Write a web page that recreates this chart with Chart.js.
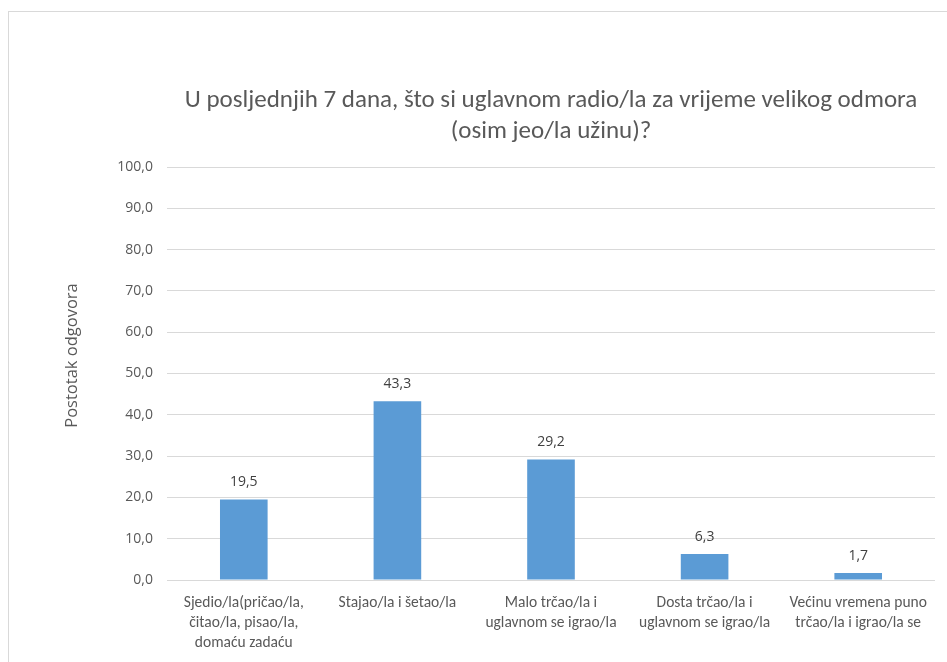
<!DOCTYPE html>
<html>
<head>
<meta charset="utf-8">
<script src="https://cdn.jsdelivr.net/npm/chart.js@4"></script>
<style>
    body { margin: 0; background: #fff; overflow: hidden; }
    #wrap {
        position: absolute; left: 8px; top: 11px;
        border-left: 1px solid #d9d9d9; border-top: 1px solid #d9d9d9;
    }
    canvas { display: block; }
</style>
</head>
<body>
<div id="wrap"><canvas id="odmorChart" width="938" height="650"></canvas></div>
<script>
const categories = [
    ["Sjedio/la(pričao/la,", "čitao/la, pisao/la,", "domaću zadaću"],
    "Stajao/la i šetao/la",
    ["Malo trčao/la i", "uglavnom se igrao/la"],
    ["Dosta trčao/la i", "uglavnom se igrao/la"],
    ["Većinu vremena puno", "trčao/la i igrao/la se"],
];
const percentages = [19.5, 43.3, 29.2, 6.3, 1.7];
const titleLines = [
    "U posljednjih 7 dana, što si uglavnom radio/la za vrijeme velikog odmora",
    "(osim jeo/la užinu)?",
];
const yAxisLabel = "Postotak odgovora";

const TEXT_FONT = "Carlito, Lato, sans-serif";
const NUM_FONT = "'Open Sans', sans-serif";

function commaNum(v) {
    return Number(v).toFixed(1).replace(".", ",");
}

// labels above the bars
const valueLabels = {
    id: "valueLabels",
    afterDatasetsDraw(chart) {
        const ctx = chart.ctx;
        ctx.save();
        ctx.font = "14px " + NUM_FONT;
        ctx.fillStyle = "#404040";
        ctx.textAlign = "center";
        ctx.textBaseline = "middle";
        chart.getDatasetMeta(0).data.forEach(function (bar, i) {
            ctx.fillText(commaNum(percentages[i]), bar.x, bar.y - 17);
        });
        ctx.restore();
    },
};

// y axis title, sits a bit above the middle of the plot like in Excel
const yTitle = {
    id: "yTitle",
    afterDraw(chart) {
        const ctx = chart.ctx;
        const area = chart.chartArea;
        ctx.save();
        ctx.translate(63, (area.top + area.bottom) / 2 - 18);
        ctx.rotate(-Math.PI / 2);
        ctx.font = "16.5px " + NUM_FONT;
        ctx.fillStyle = "#595959";
        ctx.textAlign = "center";
        ctx.textBaseline = "middle";
        ctx.fillText(yAxisLabel, 0, 0);
        ctx.restore();
    },
};

document.addEventListener("DOMContentLoaded", function () {
    const ctx = document.getElementById("odmorChart");
    new Chart(ctx, {
        type: "bar",
        data: {
            labels: categories,
            datasets: [
                {
                    data: percentages,
                    backgroundColor: "#5b9bd5",
                    categoryPercentage: 1,
                    barPercentage: 0.31,
                },
            ],
        },
        options: {
            responsive: false,
            animation: false,
            layout: { padding: { top: 0, right: 12, bottom: 0, left: 0 } },
            plugins: {
                legend: { display: false },
                tooltip: { enabled: false },
                title: {
                    display: true,
                    fullSize: false,
                    text: titleLines,
                    color: "#595959",
                    font: { family: TEXT_FONT, size: 25, weight: 300, lineHeight: 1.24 },
                    padding: { top: 73, bottom: 20 },
                },
            },
            scales: {
                x: {
                    grid: { display: false },
                    border: { display: false },
                    ticks: {
                        color: "#595959",
                        font: { family: TEXT_FONT, size: 15.5, lineHeight: 1.3 },
                        padding: 5,
                        maxRotation: 0,
                        autoSkip: false,
                    },
                    afterFit: function (scale) { scale.height = 82; },
                },
                y: {
                    min: 0,
                    max: 100,
                    grid: { color: "#d9d9d9", drawTicks: false },
                    border: { display: false },
                    ticks: {
                        stepSize: 10,
                        color: "#595959",
                        font: { family: NUM_FONT, size: 14 },
                        padding: 14,
                        callback: function (v) { return commaNum(v); },
                    },
                    afterFit: function (scale) { scale.width = 158; },
                },
            },
        },
        plugins: [valueLabels, yTitle],
    });
});
</script>
</body>
</html>
